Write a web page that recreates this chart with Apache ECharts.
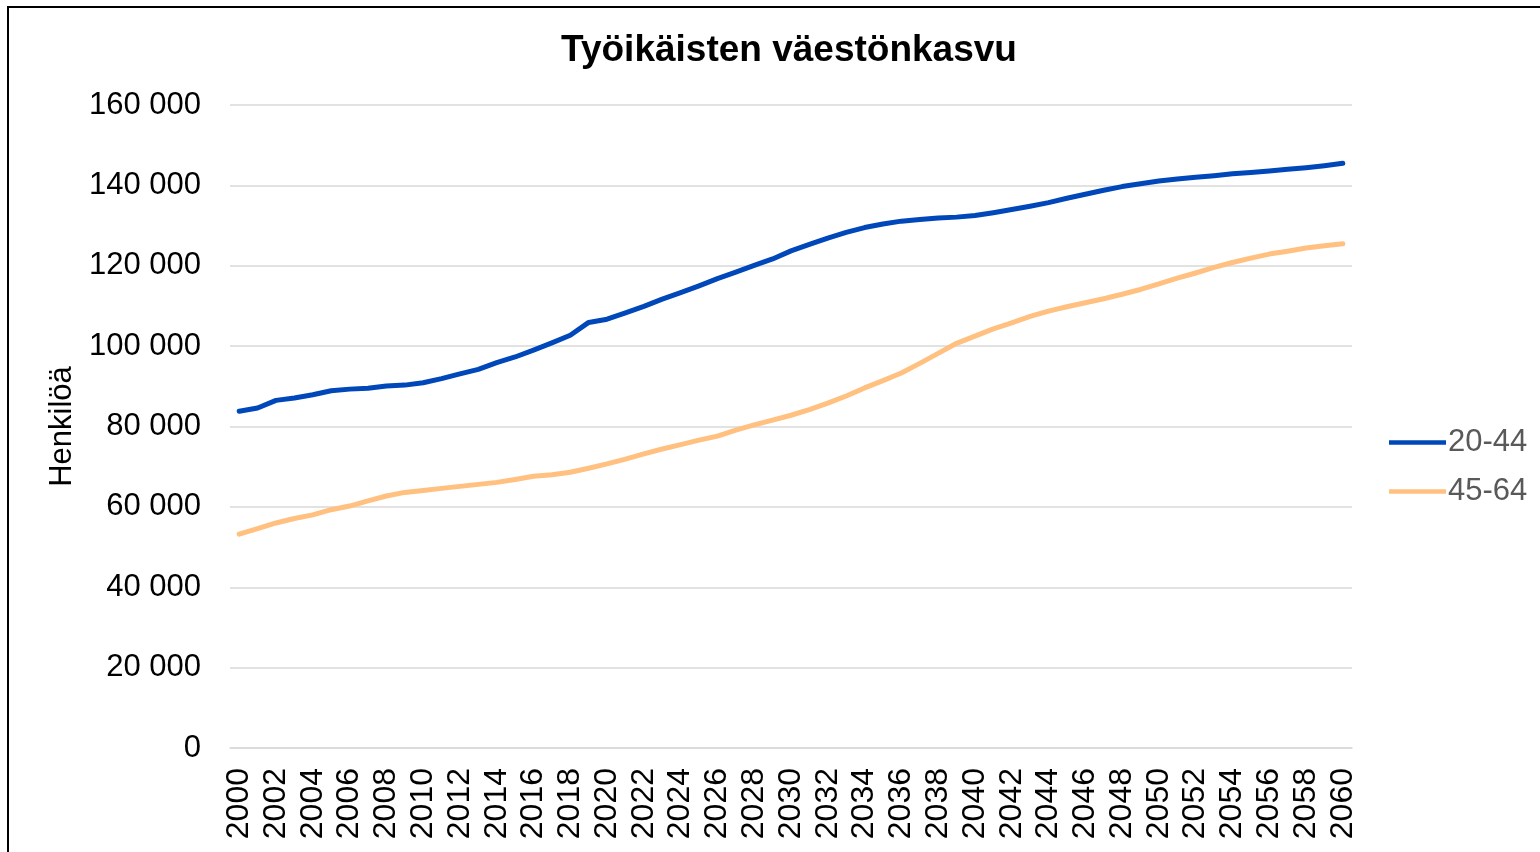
<!DOCTYPE html>
<html>
<head>
<meta charset="utf-8">
<script src="https://cdn.jsdelivr.net/npm/echarts@6/dist/echarts.min.js"></script>
<style>
html,body{margin:0;padding:0;background:#fff;}
#c{width:1540px;height:852px;}
</style>
</head>
<body>
<div id="c"></div>
<script>
const years = [];
for (let y = 2000; y <= 2060; y++) years.push(String(y));

const seriesNames = ['20-44', '45-64'];

const age20to44 = [
  83800, 84600, 86500, 87100, 87900, 88900, 89300, 89500, 90100, 90300,
  90900, 91900, 93100, 94200, 95900, 97300, 99000, 100800, 102700, 105900,
  106700, 108300, 109900, 111700, 113300, 115000, 116800, 118400, 120100, 121700,
  123700, 125300, 126900, 128300, 129500, 130400, 131100, 131500, 131900, 132100,
  132500, 133200, 134000, 134800, 135700, 136800, 137800, 138800, 139700, 140400,
  141100, 141600, 142000, 142400, 142900, 143200, 143600, 144000, 144400, 144900,
  145500
];

const age45to64 = [
  53200, 54600, 56000, 57100, 58000, 59300, 60200, 61500, 62700, 63600,
  64100, 64600, 65100, 65600, 66100, 66800, 67600, 68000, 68600, 69600,
  70700, 71900, 73200, 74400, 75500, 76600, 77600, 79100, 80400, 81600,
  82800, 84200, 85800, 87600, 89600, 91400, 93300, 95700, 98200, 100700,
  102500, 104300, 105800, 107400, 108700, 109800, 110800, 111800, 112900, 114100,
  115500, 116900, 118200, 119600, 120800, 121900, 122900, 123600, 124400, 125000,
  125500
];

const chart = echarts.init(document.getElementById('c'), null, {renderer: 'canvas'});
const font = '"Liberation Sans", Arial, sans-serif';

chart.setOption({
  backgroundColor: '#ffffff',
  animation: false,
  textStyle: {fontFamily: font},
  title: {
    text: 'Työikäisten väestönkasvu',
    left: 784,
    textAlign: 'center',
    top: 27,
    textStyle: {fontFamily: font, fontSize: 37, fontWeight: 'bold', color: '#000'}
  },
  legend: {
    orient: 'vertical',
    left: 1384,
    top: 422,
    itemWidth: 57,
    itemHeight: 14,
    itemGap: 18,
    icon: 'path://M0,5 L57,5 L57,9.5 L0,9.5 Z',
    textStyle: {fontFamily: font, fontSize: 31, color: '#595959', padding: [0,0,0,-3]},
    data: seriesNames
  },
  grid: {left: 230, right: 188, top: 105, bottom: 104, containLabel: false},
  xAxis: {
    type: 'category',
    data: years,
    boundaryGap: true,
    axisLine: {show: true, lineStyle: {color: '#d9d9d9', width: 1.5}},
    axisTick: {show: false},
    axisLabel: {
      interval: 1,
      rotate: 90,
      margin: 20,
      fontFamily: font,
      fontSize: 32,
      color: '#000'
    }
  },
  yAxis: {
    type: 'value',
    min: 0,
    max: 160000,
    interval: 20000,
    name: 'Henkilöä',
    nameLocation: 'middle',
    nameGap: 152,
    nameRotate: 90,
    nameTextStyle: {fontFamily: font, fontSize: 31, color: '#000'},
    axisLine: {show: false},
    axisTick: {show: false},
    axisLabel: {
      margin: 29,
      fontFamily: font,
      fontSize: 31,
      color: '#000',
      formatter: v => String(v).replace(/\B(?=(\d{3})+(?!\d))/g, ' ')
    },
    splitLine: {lineStyle: {color: '#d9d9d9', width: 1.5}}
  },
  series: [
    {
      name: seriesNames[0], type: 'line', data: age20to44, showSymbol: false, symbol: 'none',
      lineStyle: {color: '#0047BA', width: 5, cap: 'round', join: 'round'},
      itemStyle: {color: '#0047BA'}
    },
    {
      name: seriesNames[1], type: 'line', data: age45to64, showSymbol: false, symbol: 'none',
      lineStyle: {color: '#FFC080', width: 5, cap: 'round', join: 'round'},
      itemStyle: {color: '#FFC080'}
    }
  ],
  graphic: [{
    type: 'rect',
    shape: {x: 8, y: 7, width: 1600, height: 900},
    style: {fill: 'none', stroke: '#000', lineWidth: 2},
    silent: true,
    z: 100
  }]
});
</script>
</body>
</html>
